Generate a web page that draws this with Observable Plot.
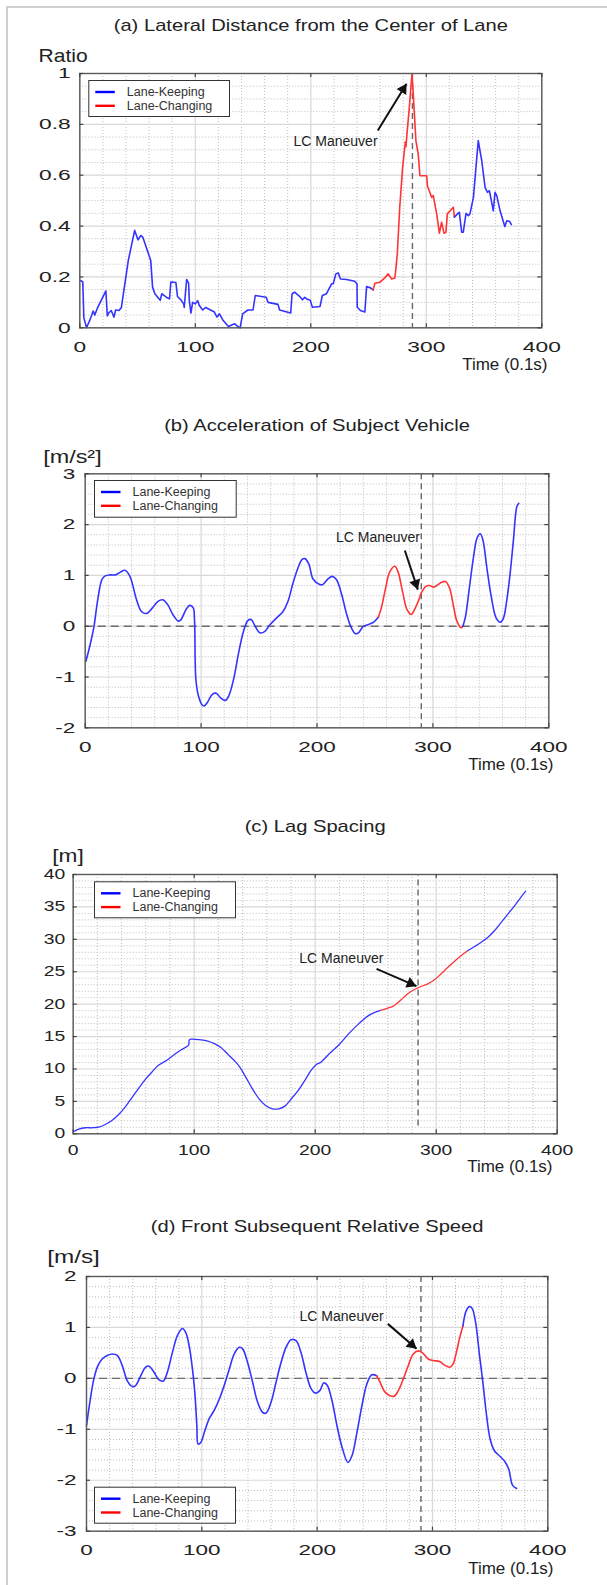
<!DOCTYPE html>
<html><head><meta charset="utf-8">
<script src="https://cdn.jsdelivr.net/npm/d3@7"></script>
<script src="https://cdn.jsdelivr.net/npm/@observablehq/plot@0.6"></script>
<style>
html,body{margin:0;padding:0;background:#fff;overflow:hidden;}
#wrap{position:relative;width:607px;height:1585px;}
#border{position:absolute;left:6px;top:6px;width:601px;height:1579px;border-left:2px solid #cfcfcf;border-top:2px solid #cfcfcf;box-sizing:border-box;pointer-events:none;}
svg{display:block}
</style></head><body><div id="wrap"><div id="charts"></div><div id="border"></div></div>
<script>
// ---------- DATA ----------
const legendLabels = ["Lane-Keeping", "Lane-Changing"];
const xTicks = [0, 100, 200, 300, 400];

// (a) Lateral Distance from the Center of Lane
const timeA = [0.6,2.6,3.5,5.8,8.7,11.6,13,15,22.6,23.8,25,27.2,29.6,31,34,36,42,47.5,50.4,52.8,54.5,61.4,63,65,69.6,71,76,77.7,78.8,83.2,84.6,87.5,89.9,90.4,92.5,94.2,94.8,96.2,97.7,100,102,103.5,106.4,109,116.5,118.8,120.9,123.8,128.7,134,137.4,138.8,141,145.5,150,151.9,161.4,163,171.6,173,182.6,183.8,186,190,192.8,194.8,197,199.5,201.4,208,210,213.6,218,219.4,221.7,223.7,225.7,231,238,240,240.2,243,246.8,248.3,251.7,254,255.5,259.8,264,267,270,272.8,274.9,277,279.5,281.8,282.4,283,285.3,287.6,288.7,291,293,294.5,300.3,301,304.6,306,309,311.3,313.3,315.3,317,318.2,322,323.4,324.3,326.9,328.6,330.6,332,334.4,336.4,337.8,340.8,343,345,346.5,348,350.9,352.9,354.6,355.8,358,359.5,361,363.9,366,368,369.7,372,373.7];
const ratioA = [0.186,0.18,0.04,0.0,0.03,0.066,0.05,0.075,0.145,0.047,0.058,0.068,0.042,0.07,0.068,0.08,0.265,0.383,0.346,0.363,0.357,0.265,0.16,0.134,0.108,0.134,0.117,0.114,0.18,0.178,0.123,0.11,0.094,0.08,0.19,0.176,0.107,0.058,0.1,0.094,0.107,0.088,0.07,0.08,0.062,0.042,0.055,0.031,0.005,0.016,0.003,0.0,0.055,0.07,0.07,0.127,0.12,0.1,0.092,0.07,0.058,0.134,0.14,0.125,0.11,0.12,0.112,0.108,0.081,0.084,0.127,0.134,0.173,0.173,0.212,0.216,0.192,0.19,0.183,0.173,0.081,0.068,0.062,0.162,0.157,0.149,0.175,0.179,0.196,0.212,0.192,0.196,0.29,0.474,0.63,0.73,0.712,0.749,0.866,1.0,0.92,0.736,0.683,0.598,0.598,0.559,0.513,0.52,0.448,0.372,0.415,0.372,0.376,0.448,0.467,0.474,0.435,0.448,0.454,0.376,0.376,0.45,0.441,0.448,0.513,0.631,0.736,0.696,0.657,0.552,0.533,0.539,0.513,0.46,0.533,0.52,0.46,0.428,0.398,0.421,0.419,0.406];
const yTicksA = [0, 0.2, 0.4, 0.6, 0.8, 1];

// (b) Acceleration of Subject Vehicle
const timeB = [0.6,4,7.4,10.8,14.5,17.3,21.6,25.9,30,34.4,38.6,44.3,48.6,52.8,58,62.8,67,71.3,75.6,80.4,82.7,87,90.3,93.2,94.3,95.5,97.7,100.6,102.6,105.4,109.7,113,116.8,121,123.9,128,132.4,136.6,140.3,143.2,146.6,150.9,155.1,159.4,165,170.7,175,179.3,183.5,187,189.5,193,196.6,202.3,205,209.5,213.2,216.7,221,225.3,229.6,233.3,236.2,239.7,244,248.9,253,255.5,259.2,262.6,267,269.8,274.1,277.6,281.3,284.2,287.9,289.9,293.7,297.1,300.6,303.4,307.2,310.9,314.4,317.8,320.7,324.4,325.9,328.2,331.6,335.1,338,340.8,343.1,346.6,350.3,354.6,358.3,360.9,363.8,366.7,369.5,372.4,374.1];
const accelB = [-0.69,-0.39,-0.03,0.52,0.92,0.99,1.01,1.01,1.06,1.1,0.98,0.52,0.29,0.25,0.36,0.49,0.52,0.42,0.23,0.1,0.13,0.33,0.41,0.36,0.13,-1.05,-1.37,-1.54,-1.57,-1.5,-1.34,-1.32,-1.41,-1.46,-1.37,-1.05,-0.52,-0.1,0.11,0.13,0,-0.13,-0.1,0.03,0.16,0.29,0.49,0.85,1.14,1.31,1.33,1.22,0.93,0.82,0.82,0.93,0.98,0.92,0.65,0.26,-0.03,-0.15,-0.12,-0.01,0.03,0.08,0.18,0.36,0.75,1.06,1.18,1.08,0.65,0.33,0.23,0.33,0.52,0.65,0.78,0.8,0.77,0.8,0.86,0.88,0.75,0.39,0.1,-0.03,0.0,0.2,0.78,1.37,1.73,1.82,1.7,1.14,0.59,0.16,0.08,0.16,0.52,1.05,1.7,2.35,2.42];
const yTicksB = [-2, -1, 0, 1, 2, 3];

// (c) Lag Spacing
const timeC = [1.1,4.6,10.1,15.6,21,26.5,32,37.4,42.9,48.4,53.8,59.3,64.8,70.2,77,82.5,89.3,94.3,95.5,95.9,97,100.3,105.7,111.2,116.7,122.1,127.6,133.1,137.7,142.6,148.1,153.6,159,164.5,170,174.9,180.3,186,192,197,201,204.7,211.6,219.9,228.2,236.5,243.4,249.7,254,260,265.5,271,276.5,282,287.6,293.1,298.6,304.1,309.7,315.2,320.7,326.2,331.8,337.3,342.8,348.3,353.9,359.4,364.9,370.4,374];
const spacingC = [0.41,0.72,0.93,0.93,1.03,1.44,2.06,2.93,4.11,5.55,6.94,8.33,9.46,10.54,11.3,12.08,12.96,13.5,13.75,14.45,14.6,14.58,14.5,14.3,13.9,13.3,12.3,11.3,10.3,8.74,6.94,5.4,4.37,3.86,3.86,4.27,5.4,6.7,8.4,9.9,10.7,11.05,12.34,13.78,15.53,17.07,18.15,18.77,19.05,19.38,19.8,20.67,21.6,22.26,22.72,23.14,23.75,24.68,25.7,26.63,27.5,28.28,28.9,29.56,30.33,31.36,32.65,33.93,35.2,36.6,37.43];
const yTicksC = [0, 5, 10, 15, 20, 25, 30, 35, 40];

// (d) Front Subsequent Relative Speed
const timeD = [0,2.9,6.4,9.9,13.6,18,22.3,26.7,31,35.4,39.7,42.6,47,51.3,54.2,58.6,62.9,66.7,70.1,74.5,78.8,83.2,86.1,89,91.9,93.9,95.7,96.8,99.1,102.6,106.4,110.7,115.1,119.4,123.8,128.1,132.5,135.4,139.7,144.1,148.4,152.8,155.7,160,164.3,168.7,173,177.4,181.7,186.1,190.2,194.5,198.6,202.3,205.7,208.6,212.9,217.2,221.6,226.7,230.2,234.5,238.8,243.1,247.4,251.7,254.6,258.9,263.2,266.7,270.4,274.7,279,283.3,287.6,291.4,296.3,300.6,306.3,310.6,314.9,317.8,320.7,323.6,326.4,329.3,332.2,334.5,337.4,340.8,343.7,346.6,350,353.7,358,362.4,366.1,369.5,373];
const speedD = [-0.93,-0.47,-0.01,0.25,0.38,0.45,0.48,0.45,0.25,-0.05,-0.16,-0.14,0.05,0.22,0.24,0.12,-0.03,-0.05,0.12,0.51,0.84,0.98,0.9,0.64,0.18,-0.27,-0.93,-1.29,-1.26,-1.03,-0.79,-0.63,-0.41,-0.14,0.18,0.48,0.61,0.58,0.31,-0.08,-0.47,-0.67,-0.68,-0.47,-0.08,0.31,0.61,0.76,0.74,0.5,0.12,-0.19,-0.29,-0.24,-0.09,-0.13,-0.44,-0.93,-1.35,-1.65,-1.52,-1.06,-0.54,-0.11,0.07,0.05,-0.08,-0.27,-0.34,-0.35,-0.24,-0.01,0.25,0.48,0.54,0.5,0.38,0.35,0.33,0.26,0.22,0.28,0.51,0.8,1.03,1.33,1.41,1.37,1.1,0.45,-0.08,-0.67,-1.19,-1.42,-1.52,-1.62,-1.78,-2.1,-2.16];
const yTicksD = [-3, -2, -1, 0, 1, 2];

// lane-change phase boundaries and LC maneuver instants (0.1 s)
const lcStart = [254, 253, 254, 251.7];
const lcEnd = [324.3, 325.9, 326.2, 326.4];
const lcTime = [288, 290, 285, 290];
// annotation arrows (tail -> head) and label anchors, in data units
const arrowA = {x1: 258, y1: 0.776, x2: 282.9, y2: 0.96}, labelA = {x: 221.4, y: 0.732};
const arrowB = {x1: 275.8, y1: 1.49, x2: 287, y2: 0.72}, labelB = {x: 252.6, y: 1.74};
const arrowC = {x1: 250.7, y1: 25.45, x2: 283.7, y2: 22.77}, labelC = {x: 221.6, y: 27.04};
const arrowD = {x1: 261.3, y1: 1.07, x2: 286.2, y2: 0.58}, labelD = {x: 221.2, y: 1.21};

// ---------- DRAWING ----------
const BLUE = "#3434ff", RED = "#ff3434";
const FONT = "'Liberation Sans', Arial, Helvetica, sans-serif";

function steps(lo, hi, step) {
  const n = Math.round((hi - lo) / step);
  return d3.range(n + 1).map(i => +(lo + i * step).toFixed(6));
}

function makePanel(c) {
  const W = 607;
  const pw = W - c.ml - c.mr, ph = c.h - c.mt - c.mb;
  const lo = c.yTicks[0], hi = c.yTicks[c.yTicks.length - 1];
  const kx = pw / 400, ky = ph / (hi - lo);
  const minorX = steps(0, 400, 20).filter(d => !xTicks.includes(d));
  const minorY = steps(lo, hi, c.minorStep).filter(d => !c.yTicks.some(m => Math.abs(m - d) < 1e-9));
  const rows = c.t.map((t, i) => ({t, v: c.v[i]}));
  const segs = [
    [rows.filter(d => d.t <= c.lcStart), BLUE],
    [rows.filter(d => d.t >= c.lcStart && d.t <= c.lcEnd), RED],
    [rows.filter(d => d.t >= c.lcEnd), BLUE]
  ];
  const curve = c.smooth ? "catmull-rom" : "linear";
  const lg = c.legend;
  const lgTop = lg.top != null ? lg.top : ph - lg.bottom - lg.h;

  // arrow geometry in screen space (for a filled head)
  const sx = (c.arrow.x2 - c.arrow.x1) * kx, sy = -(c.arrow.y2 - c.arrow.y1) * ky;
  const len = Math.hypot(sx, sy), ux = sx / len, uy = sy / len;
  const rot = Math.atan2(ux, -uy) * 180 / Math.PI;

  const marks = [
    Plot.ruleY(minorY, {stroke: "#bdbdbd", strokeDasharray: "1,2", strokeWidth: 1}),
    Plot.ruleX(minorX, {stroke: "#bdbdbd", strokeDasharray: "1,2", strokeWidth: 1}),
    Plot.ruleY(c.yTicks, {stroke: "#d8d8d8", strokeWidth: 1.2}),
    Plot.ruleX(xTicks, {stroke: "#d8d8d8", strokeWidth: 1.2})
  ];
  if (c.zero) marks.push(Plot.ruleY([0], {stroke: "#6e6e6e", strokeWidth: 1.4, strokeDasharray: "8,5"}));
  marks.push(Plot.ruleX([c.lc], {x: d => d, y1: c.lcY1, y2: c.lcY2, stroke: "#666", strokeWidth: 1.4, strokeDasharray: "6,4"}));
  for (const [d, col] of segs) {
    marks.push(Plot.line(d, {x: "t", y: "v", stroke: col, strokeWidth: c.lw, curve}));
  }
  marks.push(Plot.link([c.arrow], {x1: "x1", y1: "y1", x2: "x2", y2: "y2", stroke: "#111", strokeWidth: 2}));
  marks.push(Plot.dot([c.arrow], {x: "x2", y: "y2", symbol: "triangle", r: 4.2, rotate: rot,
    dx: -6.5 * ux, dy: -6.5 * uy, fill: "#111", stroke: "none"}));
  marks.push(Plot.text(["LC Maneuver"], {x: () => c.label.x, y: () => c.label.y, text: d => d, fontSize: 14, fill: "#222", textAnchor: "middle", lineAnchor: "middle"}));

  // legend box
  marks.push(Plot.frame({fill: "white", stroke: "#333", strokeWidth: 1,
    insetLeft: lg.left, insetTop: lgTop, insetRight: pw - lg.left - lg.w, insetBottom: ph - lgTop - lg.h}));
  legendLabels.forEach((lab, k) => {
    const cy = lgTop + 11.5 + k * 13.8;
    marks.push(Plot.frame({fill: k === 0 ? "#0000ff" : "#ff0000", stroke: "none",
      insetLeft: lg.left + 6.5, insetRight: pw - lg.left - 26, insetTop: cy - 1.2, insetBottom: ph - cy - 1.2}));
    marks.push(Plot.text([lab], {frameAnchor: "top-left", dx: lg.left + 38, dy: cy, text: d => d,
      textAnchor: "start", lineAnchor: "middle", fontSize: 12.5, fill: "#333"}));
  });

  // axes box with inward ticks
  marks.push(Plot.frame({stroke: "#5a5a5a", strokeWidth: 1.4}));
  marks.push(Plot.ruleX(xTicks, {stroke: "#444", strokeWidth: 1.2, insetTop: ph - 4}));
  marks.push(Plot.ruleX(xTicks, {stroke: "#444", strokeWidth: 1.2, insetBottom: ph - 4}));
  marks.push(Plot.ruleY(c.yTicks, {stroke: "#444", strokeWidth: 1.2, insetRight: pw - 4}));
  marks.push(Plot.ruleY(c.yTicks, {stroke: "#444", strokeWidth: 1.2, insetLeft: pw - 4}));

  marks.push(Plot.axisX({ticks: xTicks, tickSize: 0, tickPadding: c.xPad, fontSize: c.tickFont, color: "#222", label: null, tickFormat: d => String(d)}));
  marks.push(Plot.axisY({ticks: c.yTicks, tickSize: 0, tickPadding: c.yPad, fontSize: c.tickFont, color: "#222", label: null, tickFormat: d => String(d)}));

  marks.push(Plot.text([c.title], {frameAnchor: "top", dy: c.titleDy, text: d => d, fontSize: 16, fill: "#222", lineAnchor: "middle"}));
  marks.push(Plot.text([c.unit], {frameAnchor: "top-left", dx: c.unitDx, dy: c.unitDy, text: d => d, textAnchor: "start", lineAnchor: "middle", fontSize: 18, fill: "#222"}));
  marks.push(Plot.text(["Time (0.1s)"], {frameAnchor: "bottom-right", dx: c.timeDx, dy: c.timeDy, text: d => d, textAnchor: "end", lineAnchor: "middle", fontSize: 17, fill: "#222"}));

  const svg = Plot.plot({
    width: W, height: c.h,
    marginLeft: c.ml, marginRight: c.mr, marginTop: c.mt, marginBottom: c.mb,
    x: {domain: [0, 400]},
    y: {domain: [lo, hi]},
    style: {fontFamily: FONT, background: "white", color: "#222", overflow: "visible"},
    marks
  });

  // horizontal stretch of text glyphs, matched by content
  const tickStrings = new Set([...xTicks, ...c.yTicks].map(String));
  d3.select(svg).selectAll("text").each(function () {
    const s = this.textContent;
    let k = null;
    if (tickStrings.has(s)) k = c.tickStretch;
    else if (s === c.title) k = 1.26;
    else if (s === c.unit) k = c.unitStretch;
    if (k == null) return;
    const tr = this.getAttribute("transform");
    if (tr && tr.includes("translate")) {
      this.setAttribute("transform", tr + ` scale(${k},1)`);
    } else {
      const x = +(this.getAttribute("x") || 0);
      this.setAttribute("transform", `translate(${x},0) scale(${k},1) translate(${-x},0)` + (tr ? " " + tr : ""));
    }
  });
  return svg;
}

const panels = [
  {title: "(a) Lateral Distance from the Center of Lane", unit: "Ratio", t: timeA, v: ratioA, yTicks: yTicksA, minorStep: 0.05,
   h: 395, ml: 79.3, mr: 65.7, mt: 73, mb: 67.7, smooth: false, lw: 1.6, zero: false,
   lc: lcTime[0], lcStart: lcStart[0], lcEnd: lcEnd[0], arrow: arrowA, label: labelA,
   legend: {left: 9, top: 7, w: 140.7, h: 36}, xPad: 14, yPad: 9, tickFont: 15, tickStretch: 1.52,
   titleDy: -48, unitDx: -41.3, unitDy: -17, unitStretch: 1.17, timeDx: 5.7, timeDy: 36.7},
  {title: "(b) Acceleration of Subject Vehicle", unit: "[m/s²]", t: timeB, v: accelB, yTicks: yTicksB, minorStep: 0.2,
   h: 395, ml: 84.7, mr: 58.7, mt: 78.3, mb: 62.7, smooth: true, lw: 1.6, zero: true,
   lc: lcTime[1], lcStart: lcStart[1], lcEnd: lcEnd[1], arrow: arrowB, label: labelB,
   legend: {left: 9.3, top: 6.7, w: 141.7, h: 36.7}, xPad: 14, yPad: 10, tickFont: 15, tickStretch: 1.5,
   titleDy: -48, unitDx: -42, unitDy: -16.5, unitStretch: 1.3, timeDx: 4.7, timeDy: 36.7},
  {title: "(c) Lag Spacing", unit: "[m]", t: timeC, v: spacingC, yTicks: yTicksC, minorStep: 1,
   h: 395, ml: 72.7, mr: 50.3, mt: 84, mb: 51.7, smooth: true, lw: 1.3, zero: false,
   lc: lcTime[2], lcY1: 1.2, lcY2: 40, lcStart: lcStart[2], lcEnd: lcEnd[2], arrow: arrowC, label: labelC,
   legend: {left: 21.3, top: 7.3, w: 141, h: 36}, xPad: 11, yPad: 8, tickFont: 14, tickStretch: 1.38,
   titleDy: -48, unitDx: -21, unitDy: -18, unitStretch: 1.26, timeDx: -4.7, timeDy: 33},
  {title: "(d) Front Subsequent Relative Speed", unit: "[m/s]", t: timeD, v: speedD, yTicks: yTicksD, minorStep: 0.2,
   h: 400, ml: 86, mr: 59.7, mt: 91, mb: 54.3, smooth: true, lw: 1.6, zero: true,
   lc: lcTime[3], lcStart: lcStart[3], lcEnd: lcEnd[3], arrow: arrowD, label: labelD,
   legend: {left: 8, bottom: 8, w: 141, h: 36}, xPad: 13, yPad: 10, tickFont: 15, tickStretch: 1.5,
   titleDy: -50, unitDx: -39.3, unitDy: -19, unitStretch: 1.35, timeDx: 5.7, timeDy: 37}
];

const host = document.getElementById("charts");
for (const p of panels) host.appendChild(makePanel(p));
</script></body></html>
